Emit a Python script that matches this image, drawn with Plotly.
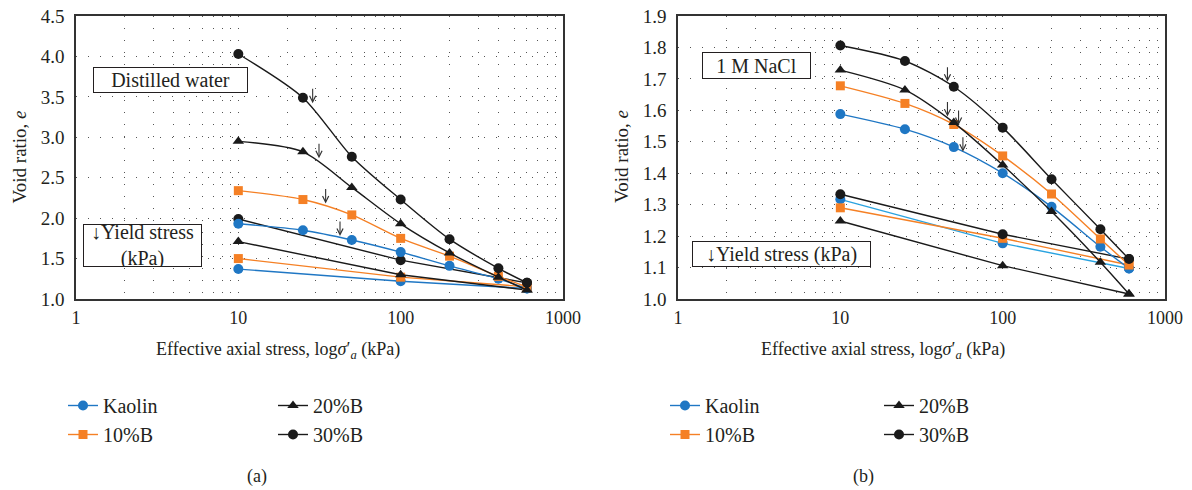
import math
import plotly.graph_objects as go

W, H = 1192, 490

# ---------------- data ----------------
stress_load = [10, 25, 50, 100, 200, 400, 600]
stress_unload = [600, 100, 10]
series = ["Kaolin", "10%B", "20%B", "30%B"]

# (a) Distilled water
dw_load = {
    "Kaolin": [1.93, 1.85, 1.73, 1.58, 1.41, 1.25, 1.13],
    "10%B":   [2.34, 2.23, 2.04, 1.75, 1.53, 1.28, 1.15],
    "20%B":   [2.95, 2.82, 2.38, 1.93, 1.57, 1.27, 1.11],
    "30%B":   [4.03, 3.49, 2.76, 2.23, 1.74, 1.38, 1.20],
}
dw_unload = {
    "Kaolin": [1.13, 1.22, 1.37],
    "10%B":   [1.15, 1.27, 1.50],
    "20%B":   [1.11, 1.30, 1.71],
    "30%B":   [1.20, 1.48, 1.99],
}
# yield stress (kPa) and arrow-tip void ratio
dw_yield_x = [42.3, 34.5, 31.4, 28.7]
dw_yield_y = [1.78, 2.18, 2.74, 3.42]

# (b) 1 M NaCl
na_load = {
    "Kaolin": [1.588, 1.540, 1.483, 1.400, 1.293, 1.166, 1.097],
    "10%B":   [1.678, 1.622, 1.555, 1.455, 1.334, 1.191, 1.108],
    "20%B":   [1.728, 1.665, 1.561, 1.426, 1.278, 1.117, 1.016],
    "30%B":   [1.806, 1.757, 1.675, 1.545, 1.381, 1.222, 1.127],
}
na_unload = {
    "Kaolin": [1.097, 1.177, 1.317],
    "10%B":   [1.108, 1.193, 1.290],
    "20%B":   [1.016, 1.106, 1.248],
    "30%B":   [1.127, 1.206, 1.333],
}
na_yield_x = [56.9, 53.5, 45.7, 45.7]
na_yield_y = [1.468, 1.553, 1.580, 1.691]

x_ticks = [1, 10, 100, 1000]

# ---------------- styles ----------------
colors = {"Kaolin": "#1f77c4", "10%B": "#f58025", "20%B": "#1a1a1a", "30%B": "#1a1a1a"}
unload_colors_b = {"Kaolin": "#2aa3e0", "10%B": "#f58025", "20%B": "#1a1a1a", "30%B": "#1a1a1a"}
symbols = {"Kaolin": "circle", "10%B": "square", "20%B": "triangle-up", "30%B": "circle"}
msize = {"Kaolin": 10, "10%B": 9, "20%B": 10, "30%B": 10}
FONT = "Liberation Serif"
TXT = "#231f20"

fig = go.Figure()

legend_of = {
    ("x", "Kaolin"): "legend", ("x", "10%B"): "legend",
    ("x", "20%B"): "legend2", ("x", "30%B"): "legend2",
    ("x2", "Kaolin"): "legend3", ("x2", "10%B"): "legend3",
    ("x2", "20%B"): "legend4", ("x2", "30%B"): "legend4",
}
rank = {"Kaolin": 1, "10%B": 2, "20%B": 3, "30%B": 4}

def add_panel(xa, ya, load, unload, ucolors):
    for s in series:
        fig.add_trace(go.Scatter(
            x=stress_unload, y=unload[s], xaxis=xa, yaxis=ya, mode="lines+markers",
            line=dict(color=ucolors[s], width=1.4),
            marker=dict(symbol=symbols[s], size=msize[s], color=colors[s]),
            showlegend=False, hoverinfo="skip"))
    for s in series:
        fig.add_trace(go.Scatter(
            x=stress_load, y=load[s], xaxis=xa, yaxis=ya, mode="lines+markers",
            line=dict(color=colors[s], width=1.4, shape="spline", smoothing=0.8),
            marker=dict(symbol=symbols[s], size=msize[s], color=colors[s]),
            name=s, legend=legend_of[(xa, s)], legendrank=rank[s], legendgroup=xa + s))

add_panel("x", "y", dw_load, dw_unload, colors)
add_panel("x2", "y2", na_load, na_unload, unload_colors_b)

grid = dict(gridcolor="#555555", gridwidth=1, griddash="1px,11px")
xcommon = dict(type="log", range=[0, 3], tickvals=x_ticks, ticktext=[str(v) for v in x_ticks],
               showgrid=False, zeroline=False, showline=True, linecolor="#333333", linewidth=1.5,
               mirror=True, ticks="", ticklabelstandoff=2, automargin=False,
               tickfont=dict(family=FONT, size=18, color=TXT),
               minor=dict(showgrid=True, dtick="D1", **grid))
ycommon = dict(showgrid=True, zeroline=False, showline=True, linecolor="#333333", linewidth=1.5,
               mirror=True, ticks="", ticklabelstandoff=6, tickformat=".1f", automargin=False,
               tickfont=dict(family=FONT, size=19, color=TXT), **grid)

fig.update_layout(
    template="none",
    width=W, height=H, autosize=False,
    margin=dict(l=0, r=0, t=0, b=0, pad=0, autoexpand=False),
    paper_bgcolor="white", plot_bgcolor="white",
    font=dict(family=FONT, color=TXT, size=18),
    xaxis=dict(domain=[76 / W, 563 / W], anchor="y", **xcommon),
    yaxis=dict(domain=[1 - 299 / H, 1 - 16 / H], anchor="x", range=[1.0, 4.5], dtick=0.5, **ycommon),
    xaxis2=dict(domain=[678 / W, 1165 / W], anchor="y2", **xcommon),
    yaxis2=dict(domain=[1 - 299 / H, 1 - 16 / H], anchor="x2", range=[1.0, 1.9], dtick=0.1, **ycommon),
)

leg = dict(orientation="v", xanchor="left", yanchor="top", itemwidth=30,
           font=dict(family=FONT, size=20, color=TXT), tracegroupgap=8,
           bgcolor="rgba(0,0,0,0)", borderwidth=0, traceorder="normal")
ly = 1 - 386 / H
fig.update_layout(
    legend=dict(x=63 / W, y=ly, **leg),
    legend2=dict(x=273 / W, y=ly, **leg),
    legend3=dict(x=665 / W, y=ly, **leg),
    legend4=dict(x=879 / W, y=ly, **leg),
)

ann = []
# yield stress arrows
for xs, ys, xr, yr in [(dw_yield_x, dw_yield_y, "x", "y"), (na_yield_x, na_yield_y, "x2", "y2")]:
    for xv, yv in zip(xs, ys):
        ann.append(dict(x=math.log10(xv), y=yv, xref=xr, yref=yr, text="", showarrow=True,
                        ax=0, ay=-16, arrowhead=5, arrowsize=1.1, arrowwidth=1.1,
                        arrowcolor="#333333", standoff=0))

def box(text, cx, cy, w, h):
    return dict(x=cx / W, y=1 - cy / H, xref="paper", yref="paper", text=text, showarrow=False,
                xanchor="center", yanchor="middle",
                font=dict(family=FONT, size=20, color=TXT), bgcolor="white",
                bordercolor="#231f20", borderwidth=1, borderpad=0, width=w, height=h, align="center")

ann.append(box("Distilled water", 170.3, 79.5, 153, 24))
ann.append(box("↓Yield stress<br>(kPa)", 142.5, 245.5, 117, 41))
ann.append(box("1 M NaCl", 756.3, 65.5, 107, 25))
ann.append(box("↓Yield stress (kPa)", 781.3, 253.7, 177, 24))

def txt(text, cx, cy, size=18, angle=0):
    return dict(x=cx / W, y=1 - cy / H, xref="paper", yref="paper", text=text, showarrow=False,
                xanchor="center", yanchor="middle", textangle=angle,
                font=dict(family=FONT, size=size, color=TXT))

xtitle = "Effective axial stress, log<i>σ</i>′<sub><i>a</i></sub> (kPa)"
for cx in (278, 883):
    ann.append(txt(xtitle, cx, 350, 18))
for cx in (18.5, 621):
    ann.append(txt("Void ratio, <i>e</i>", cx, 157, 19, -90))
for cx, t in ((257, "(a)"), (863, "(b)")):
    ann.append(txt(t, cx, 476, 18))

fig.update_layout(annotations=ann)
fig.write_html("out.html", config={"displayModeBar": False},
               post_script="document.body.style.margin='0px';")
